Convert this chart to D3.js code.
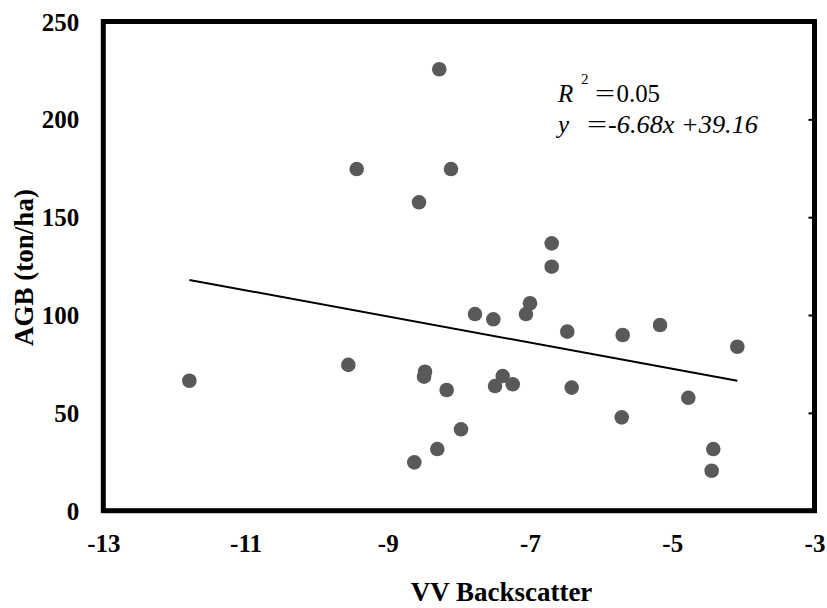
<!DOCTYPE html>
<html>
<head>
<meta charset="utf-8">
<script src="https://cdn.jsdelivr.net/npm/d3@7"></script>
<style>
  html, body { margin: 0; padding: 0; background: #fff; }
  svg { display: block; font-family: "Liberation Serif", "Times New Roman", serif; }
</style>
</head>
<body>
<svg id="chart" width="827" height="608"></svg>
<script>
// VV backscatter (dB) and above-ground biomass (ton/ha) per plot
const vvBackscatter = [
  -11.79, -9.555, -9.437, -8.561, -8.276, -8.111, -6.695, -6.695, -7.0, -7.057,
  -7.774, -7.516, -6.476, -5.697, -5.172, -4.085, -8.477, -8.49, -8.172, -7.384,
  -7.492, -7.243, -6.414, -4.774, -5.711, -7.97, -8.304, -8.627, -4.423, -4.446
];
const agb = [
  66.4, 74.5, 174.6, 157.6, 225.6, 174.6, 136.6, 124.7, 106.0, 100.5,
  100.5, 97.8, 91.5, 89.8, 94.9, 83.8, 71.0, 68.5, 61.7, 68.8,
  63.7, 64.6, 62.9, 57.7, 47.7, 41.6, 31.5, 24.7, 31.5, 20.4
];

// Linear fit reported on the chart
const fitSlope = -6.68;
const fitIntercept = 39.16;
const fitR2 = "0.05";

const xTicks = [-13, -11, -9, -7, -5, -3];
const yTicks = [0, 50, 100, 150, 200, 250];

const serif = "'Liberation Serif', 'Times New Roman', serif";
const svg = d3.select("#chart");
const plotLeft = 103.3, plotRight = 814.5, plotTop = 21.5, plotBottom = 510.7;

const x = d3.scaleLinear().domain([-13, -3]).range([plotLeft, plotRight]);
const y = d3.scaleLinear().domain([0, 250]).range([plotBottom, plotTop]);

// Right axis: short inward ticks only
const rightAxis = svg.append("g")
  .attr("transform", `translate(${plotRight},0)`)
  .call(d3.axisLeft(y).tickValues(yTicks.slice(1, -1)).tickSize(6).tickFormat(""));
rightAxis.select(".domain").remove();
rightAxis.selectAll("line").attr("stroke", "#000").attr("stroke-width", 2);

// Left tick labels
const leftAxis = svg.append("g")
  .attr("transform", `translate(${plotLeft},0)`)
  .call(d3.axisLeft(y).tickValues(yTicks).tickSize(0).tickPadding(24));
leftAxis.attr("font-family", serif);
leftAxis.select(".domain").remove();
leftAxis.selectAll("text")
  .attr("font-size", 25).attr("font-weight", "bold").attr("fill", "#000")
  .attr("dy", "0.34em");

// Bottom tick labels
const bottomAxis = svg.append("g")
  .attr("transform", `translate(0,${plotBottom})`)
  .call(d3.axisBottom(x).tickValues(xTicks).tickSize(0).tickPadding(24)
    .tickFormat(d => d < 0 ? "-" + Math.abs(d) : String(d)));
bottomAxis.attr("font-family", serif);
bottomAxis.select(".domain").remove();
bottomAxis.selectAll("text")
  .attr("font-size", 25).attr("font-weight", "bold").attr("fill", "#000")
  .attr("dy", "0.71em");

// Plot frame
svg.append("rect")
  .attr("x", plotLeft).attr("y", plotTop)
  .attr("width", plotRight - plotLeft).attr("height", plotBottom - plotTop)
  .attr("fill", "none").attr("stroke", "#000").attr("stroke-width", 5);

// Trend line over the observed range
const [xMin, xMax] = d3.extent(vvBackscatter);
svg.append("line")
  .attr("x1", x(xMin)).attr("y1", y(fitSlope * xMin + fitIntercept))
  .attr("x2", x(xMax)).attr("y2", y(fitSlope * xMax + fitIntercept))
  .attr("stroke", "#000").attr("stroke-width", 2);

// Observations
svg.append("g").selectAll("circle")
  .data(vvBackscatter.map((v, i) => [v, agb[i]]))
  .join("circle")
  .attr("cx", d => x(d[0]))
  .attr("cy", d => y(d[1]))
  .attr("r", 7.3)
  .attr("fill", "#595959");

// Fit annotation, laid out piece by piece like an equation editor
const eq = svg.append("g").attr("font-family", serif).attr("font-size", 25).attr("fill", "#000");
eq.append("text").attr("x", 558).attr("y", 102).attr("font-style", "italic").text("R");
eq.append("text").attr("x", 581).attr("y", 84).attr("font-size", 15).text("2");
eq.append("text").attr("x", 595).attr("y", 102)
  .attr("textLength", 20).attr("lengthAdjust", "spacingAndGlyphs").text("=");
eq.append("text").attr("x", 616.5).attr("y", 102)
  .attr("textLength", 43.5).attr("lengthAdjust", "spacingAndGlyphs").text(fitR2);

eq.append("text").attr("x", 558).attr("y", 133).attr("font-style", "italic").text("y");
eq.append("text").attr("x", 587).attr("y", 133)
  .attr("textLength", 20).attr("lengthAdjust", "spacingAndGlyphs").text("=");
eq.append("text").attr("x", 608).attr("y", 133).attr("font-style", "italic")
  .attr("font-size", 26)
  .attr("textLength", 150).attr("lengthAdjust", "spacingAndGlyphs")
  .text(`${fitSlope.toFixed(2)}x +${fitIntercept.toFixed(2)}`);

// Axis titles
svg.append("text")
  .attr("x", 501.5).attr("y", 601)
  .attr("text-anchor", "middle")
  .attr("font-family", serif)
  .attr("font-size", 27).attr("font-weight", "bold")
  .text("VV Backscatter");

svg.append("text")
  .attr("transform", "translate(33,267.5) rotate(-90)")
  .attr("text-anchor", "middle")
  .attr("font-family", serif)
  .attr("font-size", 27).attr("font-weight", "bold")
  .text("AGB (ton/ha)");
</script>
</body>
</html>
